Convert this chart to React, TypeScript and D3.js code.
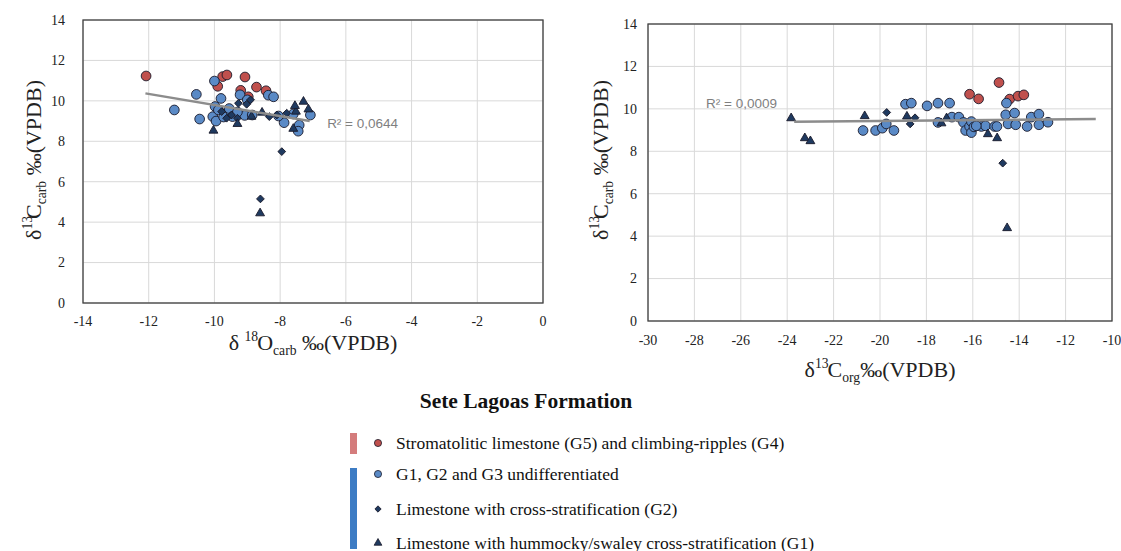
import { useEffect, useRef } from 'react';
import * as d3 from 'd3';

type Pt = [number, number];

// tick labels
const yTicks = [0, 2, 4, 6, 8, 10, 12, 14];
const leftXTicks = [-14, -12, -10, -8, -6, -4, -2, 0];
const rightXTicks = [-30, -28, -26, -24, -22, -20, -18, -16, -14, -12, -10];

// d18O carb vs d13C carb
const leftStromatolitic: Pt[] = [
  [-12.08, 11.23], [-9.75, 11.2], [-9.62, 11.28], [-9.9, 10.72], [-9.07, 11.18],
  [-9.2, 10.52], [-8.72, 10.68], [-8.43, 10.5], [-8.97, 10.2],
];
const leftUndiff: Pt[] = [
  [-10.0, 10.98], [-10.55, 10.32], [-11.22, 9.55], [-10.45, 9.1], [-10.05, 9.22],
  [-9.95, 9.0], [-9.8, 10.12], [-9.98, 9.72], [-9.88, 9.55], [-9.65, 9.38],
  [-9.55, 9.62], [-9.45, 9.22], [-9.22, 10.3], [-9.08, 9.28], [-9.0, 10.05],
  [-8.36, 10.28], [-8.2, 10.2], [-7.88, 8.92], [-7.42, 8.8], [-7.45, 8.5],
  [-7.08, 9.3], [-9.72, 9.2], [-9.3, 9.45], [-8.85, 9.3], [-8.05, 9.25], [-7.6, 9.35],
];
const leftCross: Pt[] = [
  [-9.27, 9.88], [-9.02, 9.83], [-8.9, 10.05], [-9.78, 9.47], [-9.63, 9.14],
  [-9.48, 9.3], [-9.3, 9.14], [-8.33, 9.22], [-8.1, 9.3], [-7.8, 9.39],
  [-7.95, 7.49], [-8.6, 5.15],
];
const leftHummocky: Pt[] = [
  [-10.03, 8.53], [-9.3, 8.86], [-8.87, 9.22], [-8.55, 9.42], [-7.29, 9.96],
  [-7.14, 9.58], [-7.52, 9.47], [-7.6, 8.62], [-8.61, 4.44], [-7.55, 9.75],
];
const leftTrend: Pt[] = [[-12.1, 10.37], [-7.1, 9.0]];

// d13C org vs d13C carb
const rightStromatolitic: Pt[] = [
  [-16.14, 10.69], [-15.75, 10.47], [-14.87, 11.24], [-14.41, 10.46], [-14.05, 10.6], [-13.8, 10.66],
];
const rightUndiff: Pt[] = [
  [-20.73, 8.98], [-20.19, 8.98], [-19.9, 9.09], [-19.73, 9.29], [-19.4, 8.98],
  [-18.9, 10.22], [-18.65, 10.27], [-17.97, 10.14], [-17.5, 10.27], [-17.0, 10.27],
  [-17.5, 9.36], [-16.9, 9.61], [-16.6, 9.61], [-16.4, 9.36], [-16.31, 8.98],
  [-16.14, 9.17], [-16.06, 8.88], [-16.06, 9.4], [-15.63, 9.17], [-15.45, 9.2],
  [-15.06, 9.17], [-14.96, 9.17], [-14.55, 10.27], [-14.58, 9.72], [-14.48, 9.29],
  [-14.2, 9.8], [-14.15, 9.25], [-13.66, 9.17], [-13.48, 9.61], [-13.15, 9.75],
  [-13.15, 9.25], [-12.76, 9.37], [-15.95, 9.15], [-15.85, 9.2],
];
const rightCross: Pt[] = [[-19.71, 9.83], [-18.7, 9.29], [-18.49, 9.58], [-14.71, 7.44]];
const rightHummocky: Pt[] = [
  [-23.83, 9.56], [-23.24, 8.62], [-23.0, 8.48], [-20.66, 9.66], [-18.84, 9.64],
  [-17.35, 9.32], [-17.13, 9.56], [-15.35, 8.81], [-14.95, 8.62], [-14.52, 4.38],
];
const rightTrend: Pt[] = [[-23.7, 9.39], [-10.7, 9.52]];

const legendTitle = 'Sete Lagoas Formation';
const legendLabels = [
  'Stromatolitic limestone (G5) and climbing-ripples (G4)',
  'G1, G2 and G3 undifferentiated',
  'Limestone with cross-stratification (G2)',
  'Limestone with hummocky/swaley cross-stratification (G1)',
];

type Seg = { t: string; k: 'n' | 'sup' | 'sub'; dx?: number };
const yTitle: Seg[] = [
  { t: 'δ', k: 'n' }, { t: '13', k: 'sup' }, { t: 'C', k: 'n', dx: -3 },
  { t: 'carb', k: 'sub' }, { t: ' ‰(VPDB)', k: 'n' },
];
const leftXTitle: Seg[] = [
  { t: 'δ ', k: 'n' }, { t: '18', k: 'sup' }, { t: 'O', k: 'n', dx: -1 },
  { t: 'carb', k: 'sub' }, { t: ' ‰(VPDB)', k: 'n' },
];
const rightXTitle: Seg[] = [
  { t: 'δ', k: 'n' }, { t: '13', k: 'sup' }, { t: 'C', k: 'n', dx: -1 },
  { t: 'org', k: 'sub' }, { t: '‰(VPDB)', k: 'n' },
];

const RED = '#C0504D';
const BLUE = '#5A8AC6';
const NAVY = '#1F3A60';
const SERIF = '"Times New Roman", "Liberation Serif", "DejaVu Serif", serif';

function addRich(sel: any, segs: Seg[], size: number) {
  let shift = 0;
  segs.forEach(s => {
    const target = s.k === 'sup' ? -0.42 * size : s.k === 'sub' ? 0.22 * size : 0;
    sel.append('tspan')
      .attr('dy', target - shift)
      .attr('dx', s.dx || 0)
      .attr('font-size', s.k === 'n' ? size : size * 0.62)
      .text(s.t);
    shift = target;
  });
}

export default function App() {
  const svgRef = useRef<SVGSVGElement>(null);

  useEffect(() => {
    if (!svgRef.current) return;
    const svg = d3.select(svgRef.current);
    svg.selectAll('*').remove();

    const circle = d3.symbol().type(d3.symbolCircle).size(74);
    const diamond = d3.symbol().type(d3.symbolSquare).size(30);
    const triangle = d3.symbol().type(d3.symbolTriangle).size(34);

    const drawPanel = (opts: {
      x0: number; x1: number; y0: number; y1: number; xDomain: [number, number];
      xTicks: number[]; yLabelX: number; xLabelY: number; yTitleX: number; xTitleY: number;
      xTitle: Seg[]; series: Pt[][]; trend: Pt[]; r2: string; r2At: Pt;
    }) => {
      const x = d3.scaleLinear().domain(opts.xDomain).range([opts.x0, opts.x1]);
      const y = d3.scaleLinear().domain([0, 14]).range([opts.y1, opts.y0]);
      const g = svg.append('g');

      // grid
      g.selectAll('.vg').data(opts.xTicks).join('line')
        .attr('x1', d => x(d)).attr('x2', d => x(d))
        .attr('y1', opts.y0).attr('y2', opts.y1)
        .attr('stroke', '#D9D9D9').attr('stroke-width', 1);
      g.selectAll('.hg').data(yTicks).join('line')
        .attr('x1', opts.x0).attr('x2', opts.x1)
        .attr('y1', d => y(d)).attr('y2', d => y(d))
        .attr('stroke', '#D9D9D9').attr('stroke-width', 1);

      // frame
      g.append('rect')
        .attr('x', opts.x0).attr('y', opts.y0)
        .attr('width', opts.x1 - opts.x0).attr('height', opts.y1 - opts.y0)
        .attr('fill', 'none').attr('stroke', '#404040').attr('stroke-width', 1.3);

      // tick labels
      g.selectAll('.xt').data(opts.xTicks).join('text')
        .attr('x', d => x(d)).attr('y', opts.xLabelY)
        .attr('text-anchor', 'middle')
        .style('font-family', SERIF).attr('font-size', 14).attr('fill', '#222')
        .text(d => String(d));
      g.selectAll('.yt').data(yTicks).join('text')
        .attr('x', opts.yLabelX).attr('y', d => y(d)).attr('dy', '0.35em')
        .attr('text-anchor', 'end')
        .style('font-family', SERIF).attr('font-size', 14).attr('fill', '#222')
        .text(d => String(d));

      // points
      const [red, blue, cross, humm] = opts.series;
      const drawSym = (data: Pt[], gen: any, fill: string, rot = 0) => {
        g.append('g').selectAll('path').data(data).join('path')
          .attr('d', gen)
          .attr('transform', d => `translate(${x(d[0])},${y(d[1])}) rotate(${rot})`)
          .attr('fill', fill).attr('stroke', '#1a1a2a').attr('stroke-width', 0.9);
      };
      drawSym(red, circle, RED);
      drawSym(blue, circle, BLUE);
      drawSym(cross, diamond, NAVY, 45);
      drawSym(humm, triangle, NAVY);

      // trend line
      g.append('path')
        .datum(opts.trend)
        .attr('d', d3.line<Pt>().x(d => x(d[0])).y(d => y(d[1])))
        .attr('fill', 'none').attr('stroke', '#8C8C8C').attr('stroke-width', 2.5);

      g.append('text')
        .attr('x', x(opts.r2At[0])).attr('y', y(opts.r2At[1]))
        .style('font-family', '"Liberation Sans", Arial, sans-serif')
        .attr('font-size', 13.5).attr('fill', '#7F7F7F')
        .text(opts.r2);

      // axis titles
      const xt = g.append('text')
        .attr('x', (opts.x0 + opts.x1) / 2).attr('y', opts.xTitleY)
        .attr('text-anchor', 'middle')
        .style('font-family', SERIF).attr('fill', '#222');
      addRich(xt, opts.xTitle, 22);
      const yt = g.append('text')
        .attr('transform', `translate(${opts.yTitleX},160) rotate(-90)`)
        .attr('text-anchor', 'middle')
        .style('font-family', SERIF).attr('fill', '#222');
      addRich(yt, yTitle, 22);
    };

    drawPanel({
      x0: 83, x1: 543, y0: 20, y1: 303, xDomain: [-14, 0], xTicks: leftXTicks,
      yLabelX: 65, xLabelY: 326, yTitleX: 41, xTitleY: 350, xTitle: leftXTitle,
      series: [leftStromatolitic, leftUndiff, leftCross, leftHummocky],
      trend: leftTrend, r2: 'R² = 0,0644', r2At: [-6.57, 8.66],
    });
    drawPanel({
      x0: 648, x1: 1112, y0: 24, y1: 321, xDomain: [-30, -10], xTicks: rightXTicks,
      yLabelX: 637, xLabelY: 345, yTitleX: 608, xTitleY: 377, xTitle: rightXTitle,
      series: [rightStromatolitic, rightUndiff, rightCross, rightHummocky],
      trend: rightTrend, r2: 'R² = 0,0009', r2At: [-27.5, 10.05],
    });

    // legend
    const lg = svg.append('g');
    lg.append('text')
      .attr('x', 526).attr('y', 408).attr('text-anchor', 'middle')
      .style('font-family', SERIF).attr('font-size', 21.5).attr('font-weight', 'bold')
      .attr('fill', '#111')
      .text(legendTitle);

    lg.append('rect').attr('x', 350).attr('y', 433).attr('width', 7).attr('height', 21)
      .attr('fill', '#D47C7C');
    lg.append('rect').attr('x', 350).attr('y', 468).attr('width', 7).attr('height', 81)
      .attr('fill', '#3D7CC4');

    const rowY = [443, 474, 509, 543];
    const legendSyms = [
      { gen: d3.symbol().type(d3.symbolCircle).size(40), fill: RED, rot: 0 },
      { gen: d3.symbol().type(d3.symbolCircle).size(40), fill: BLUE, rot: 0 },
      { gen: d3.symbol().type(d3.symbolSquare).size(20), fill: NAVY, rot: 45 },
      { gen: d3.symbol().type(d3.symbolTriangle).size(26), fill: NAVY, rot: 0 },
    ];
    legendLabels.forEach((label, i) => {
      const s = legendSyms[i];
      lg.append('path')
        .attr('d', s.gen as any)
        .attr('transform', `translate(378,${rowY[i]}) rotate(${s.rot})`)
        .attr('fill', s.fill).attr('stroke', '#1a1a2a').attr('stroke-width', 0.8);
      lg.append('text')
        .attr('x', 396).attr('y', rowY[i] + 5.5)
        .style('font-family', SERIF).attr('font-size', 17.5).attr('fill', '#111')
        .text(label);
    });
  }, []);

  return (
    <div style={{ position: 'absolute', left: 0, top: 0 }}>
      <svg ref={svgRef} width={1121} height={551} style={{ display: 'block', background: '#fff' }} />
    </div>
  );
}
